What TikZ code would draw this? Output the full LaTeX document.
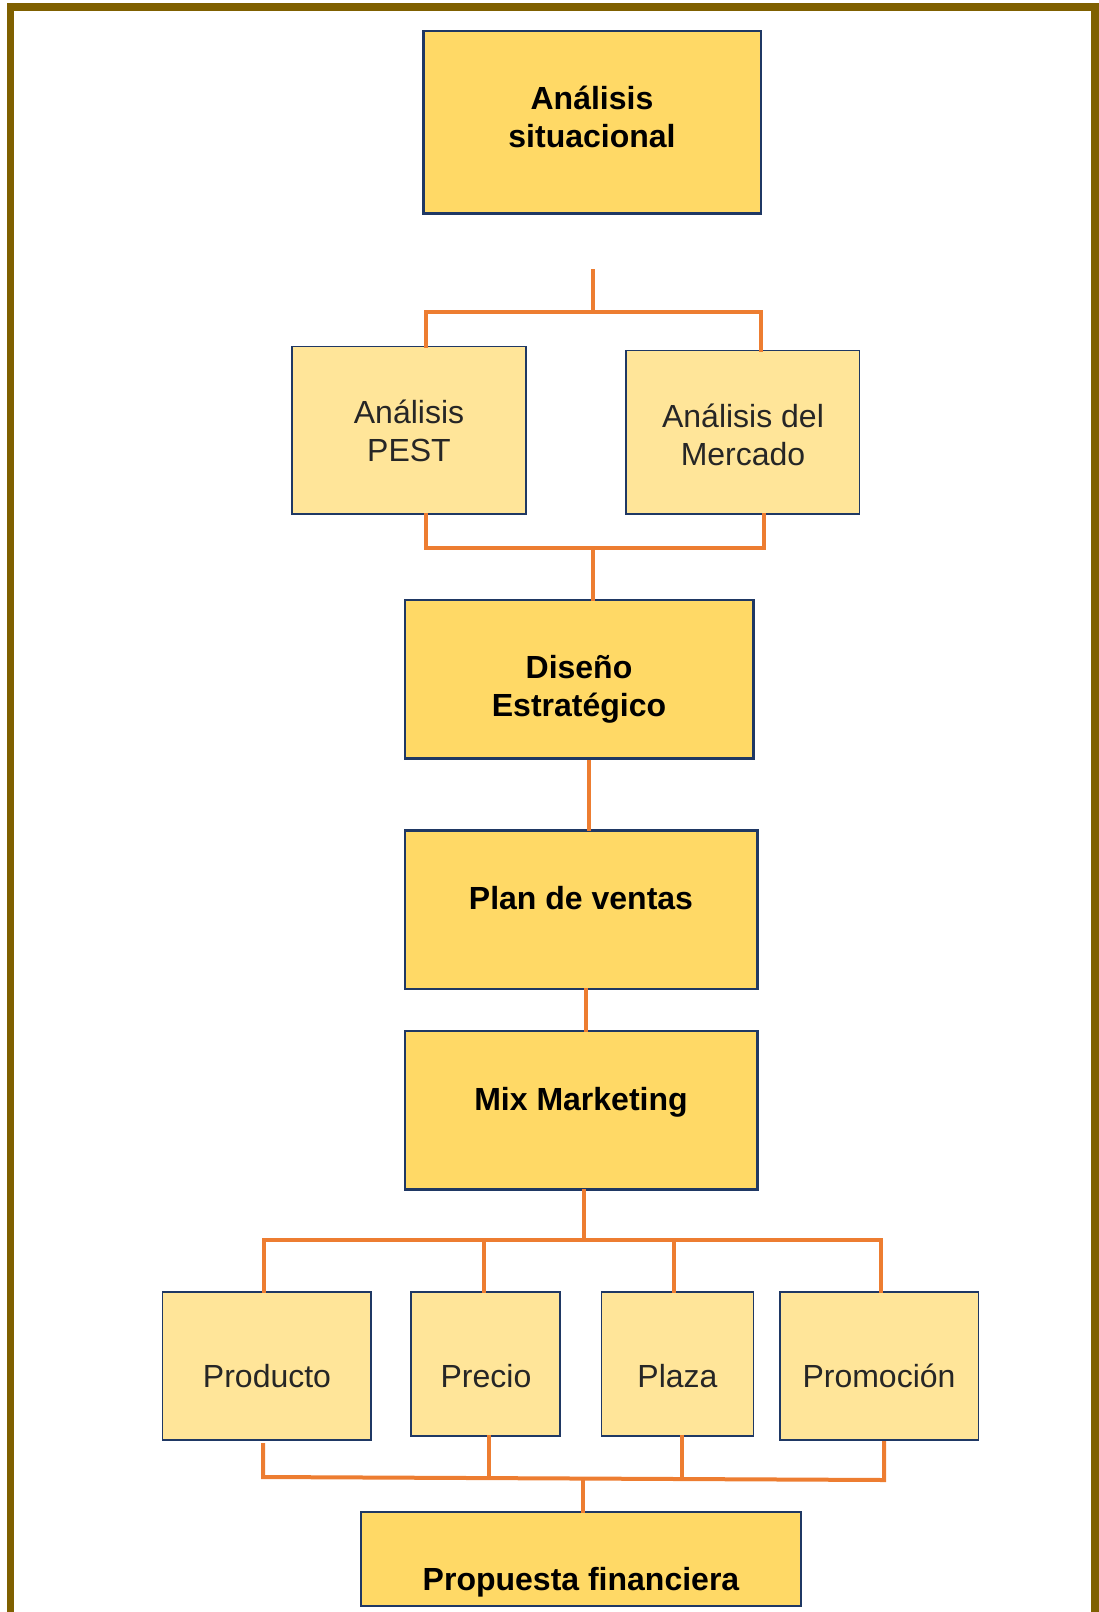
\documentclass[tikz,border=0pt]{standalone}
\usepackage{fontspec}
\setmainfont{Liberation Sans}
\usetikzlibrary{fit,calc}
\definecolor{darkfill}{HTML}{FFD966}
\definecolor{lightfill}{HTML}{FFE599}
\definecolor{navy}{HTML}{1F3864}
\definecolor{orangeline}{HTML}{ED7D31}
\definecolor{framebrown}{HTML}{7F6000}
\definecolor{greytext}{HTML}{262626}
\tikzset{
  darkbox/.style={draw=navy, fill=darkfill, line width=1.25pt, inner sep=0pt, rectangle},
  lightbox/.style={draw=navy, fill=lightfill, line width=0.65pt, inner sep=0pt, rectangle},
  boldtxt/.style={inner sep=0pt, align=center, text height=11.5pt, text depth=0pt,
    font=\fontsize{16}{18.75}\selectfont\bfseries, text=black},
  plaintxt/.style={inner sep=0pt, align=center, text height=11.5pt, text depth=0pt,
    font=\fontsize{16}{18.75}\selectfont, text=greytext},
  conn/.style={draw=orangeline, line width=2pt, line cap=rect, line join=miter},
}
\begin{document}
\begin{tikzpicture}[x=0.5pt,y=-0.5pt]
\useasboundingbox (0,0) rectangle (1098,1612);
% frame
\draw[framebrown, line width=3.8pt] (10.5,1640) -- (10.5,7.2) -- (1095,7.2) -- (1095,1640);

% boxes
\node[darkbox, fit={(423.5,31) (761,213.5)}] (sit) {};
\node[lightbox, fit={(292,346.5) (526,514)}] (pest) {};
\node[lightbox, fit={(626,350.5) (859.5,514)}] (merc) {};
\node[darkbox, fit={(405,600) (753.5,758.5)}] (dis) {};
\node[darkbox, fit={(405,830.5) (757.5,989)}] (plan) {};
\node[darkbox, fit={(405,1031) (757.5,1189.5)}] (mix) {};
\node[lightbox, fit={(162.5,1292) (371,1440)}] (prod) {};
\node[lightbox, fit={(411,1292) (560,1436)}] (pre) {};
\node[lightbox, fit={(601.5,1292) (753.5,1436)}] (pla) {};
\node[lightbox, fit={(780,1292) (978.5,1440)}] (pro) {};
\node[darkbox, fit={(361,1512) (801,1606)}] (prop) {};

% texts
\node[boldtxt] (sitT) at (592,135.5) {Análisis\\situacional};
\node[plaintxt] (pestT) at (409,449.5) {Análisis\\PEST};
\node[plaintxt] (mercT) at (743,453.5) {Análisis del\\Mercado};
\node[boldtxt] (disT) at (579,704.5) {Diseño\\Estratégico};
\node[boldtxt] (planT) at (581,898) {Plan de ventas};
\node[boldtxt] (mixT) at (581,1099) {Mix Marketing};
\node[plaintxt] (prodT) at (267,1376) {Producto};
\node[plaintxt] (preT) at (486,1376) {Precio};
\node[plaintxt] (plaT) at (677.5,1376) {Plaza};
\node[plaintxt] (proT) at (879,1376) {Promoción};
\node[boldtxt] (propT) at (581,1579) {Propuesta financiera};

% connectors: top split
\coordinate (t0) at (593,271);
\coordinate (t1) at (593,312);
\coordinate (tL) at (426,312);
\coordinate (tR) at (761,312);
\draw[conn] (t0) -- (t1);
\draw[conn] (tL) -- (tR);
\draw[conn] (tL) -- (tL |- pest.north);
\draw[conn] (tR) -- (tR |- merc.north);

% merge to Diseño
\coordinate (bL) at (425.5,548);
\coordinate (bR) at (763.5,548);
\coordinate (bC) at (593,548);
\draw[conn] (bL |- pest.south) -- (bL) -- (bR) -- (bR |- merc.south);
\draw[conn] (bC) -- (bC |- dis.north);

% Diseño -> Plan -> Mix
\coordinate (d1) at (589,762);
\draw[conn] (d1) -- (d1 |- plan.north);
\coordinate (p1) at (586,0);
\draw[conn] (p1 |- plan.south) -- (p1 |- mix.north);

% Mix split into four
\coordinate (m1) at (584,0);
\coordinate (mj) at (584,1240);
\draw[conn] (m1 |- mix.south) -- (mj);
\coordinate (h1) at (264,1240);
\coordinate (h2) at (484,1240);
\coordinate (h3) at (674,1240);
\coordinate (h4) at (881,1240);
\draw[conn] (h1) -- (h4);
\draw[conn] (h1) -- (h1 |- prod.north);
\draw[conn] (h2) -- (h2 |- pre.north);
\draw[conn] (h3) -- (h3 |- pla.north);
\draw[conn] (h4) -- (h4 |- pro.north);

% merge to Propuesta
\coordinate (q1a) at (263,1445);
\coordinate (q1) at (263,1477);
\coordinate (q4a) at (884,1443);
\coordinate (q4) at (884,1480);
\coordinate (q2) at (489,1478);
\coordinate (q3) at (681.5,1479);
\coordinate (qc) at (583,1478.5);
\draw[conn] (q1a) -- (q1) -- (q4) -- (q4a);
\draw[conn] (q2 |- pre.south) -- (q2);
\draw[conn] (q3 |- pla.south) -- (q3);
\draw[conn] (qc) -- (qc |- prop.north);
\end{tikzpicture}
\end{document}
